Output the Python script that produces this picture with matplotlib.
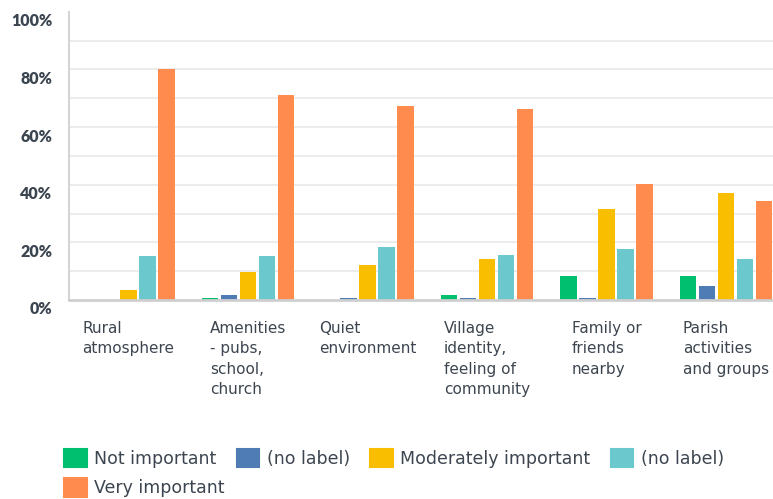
import matplotlib
matplotlib.use("Agg")
import matplotlib.pyplot as plt
import matplotlib.transforms as mtransforms
from matplotlib import font_manager
from matplotlib.patches import Patch
import numpy as np

# ---------------- data ----------------
categories = [
    "Rural\natmosphere",
    "Amenities\n- pubs,\nschool,\nchurch",
    "Quiet\nenvironment",
    "Village\nidentity,\nfeeling of\ncommunity",
    "Family or\nfriends\nnearby",
    "Parish\nactivities\nand groups",
]
series_names = ["Not important", "(no label)", "Moderately important", "(no label)", "Very important"]
not_important = [0.0, 0.7, 0.0, 1.7, 8.2, 8.2]
no_label_1 = [0.0, 1.7, 0.7, 0.7, 0.7, 4.7]
moderately_important = [3.6, 9.7, 12.1, 14.2, 31.7, 37.2]
no_label_2 = [15.2, 15.2, 18.3, 15.6, 17.7, 14.2]
very_important = [80.0, 71.1, 67.2, 66.1, 40.1, 34.2]
y_ticks = [0, 20, 40, 60, 80, 100]
y_tick_labels = ["0%", "20%", "40%", "60%", "80%", "100%"]

colors = ["#00bf6f", "#507cb6", "#f9be00", "#6bc8cd", "#ff8b4f"]
series = [not_important, no_label_1, moderately_important, no_label_2, very_important]

# ---------------- fonts ----------------
available = {f.name for f in font_manager.fontManager.ttflist}
def pick(cands):
    for c in cands:
        if c in available:
            return c
    return "DejaVu Sans"
label_font = "DejaVu Sans"
tick_font = pick(["Lato", "Roboto", "DejaVu Sans"])
text_color = "#3d4650"

W, H = 773, 499
fig = plt.figure(figsize=(W / 100, H / 100), dpi=100)
ax_left, ax_right = 68.75, 785.75
ax_top, ax_bot = 11.7, 300.0
ax = fig.add_axes([ax_left / W, 1 - ax_bot / H, (ax_right - ax_left) / W, (ax_bot - ax_top) / H])

x = np.arange(len(categories))
step = 0.159
width = 0.142
for k, (vals, col) in enumerate(zip(series, colors)):
    ax.bar(x + (k - 2) * step, vals, width=width, color=col, linewidth=0, zorder=3)

ax.set_xlim(-0.5, len(categories) - 0.5)
ax.set_ylim(0, 100)
ax.set_yticks(y_ticks)
ax.set_yticklabels(y_tick_labels, fontfamily=tick_font, fontweight="heavy",
                   fontsize=11.5, color="#3b4550")
ax.set_yticks(range(10, 100, 20), minor=True)
ax.tick_params(axis="y", which="both", length=0, pad=12)
ax.yaxis.grid(True, which="both", color="#ececec", linewidth=1.5, zorder=0)
ax.yaxis.get_gridlines()[-1].set_visible(False)
ax.yaxis.get_gridlines()[0].set_visible(False)

offset = mtransforms.ScaledTranslation(0, -8 / 100, fig.dpi_scale_trans)
for lab in ax.get_yticklabels():
    lab.set_transform(lab.get_transform() + offset)

ax.set_xticks(x)
ax.set_xticklabels(categories, fontfamily=label_font, fontsize=11, color=text_color,
                   ha="center", va="top", multialignment="left", linespacing=1.45)
ax.tick_params(axis="x", length=0, pad=15)

for s in ["top", "right"]:
    ax.spines[s].set_visible(False)
ax.spines["left"].set_color("#d4d4d4")
ax.spines["left"].set_linewidth(1.5)
ax.spines["bottom"].set_color("#cfcfcf")
ax.spines["bottom"].set_linewidth(2)
ax.spines["bottom"].set_zorder(4)

# legend: first row of four entries, second row with the last entry
handles = [Patch(facecolor=c, edgecolor=c, linewidth=1.5, joinstyle="round") for c in colors]
leg_kw = dict(loc="upper left", frameon=False, borderpad=0, borderaxespad=0,
              prop={"family": label_font, "size": 12.5},
              handlelength=1.3, handleheight=1.3, handletextpad=0.45,
              columnspacing=1.15)
leg1 = fig.legend(handles[:4], series_names[:4], ncol=4,
                  bbox_to_anchor=(64 / W, 1 - 448.5 / H), **leg_kw)
leg2 = fig.legend(handles[4:], series_names[4:], ncol=1,
                  bbox_to_anchor=(64 / W, 1 - 478 / H), **leg_kw)
for lg in (leg1, leg2):
    for t in lg.get_texts():
        t.set_color(text_color)

fig.savefig("out.png", dpi=100)
